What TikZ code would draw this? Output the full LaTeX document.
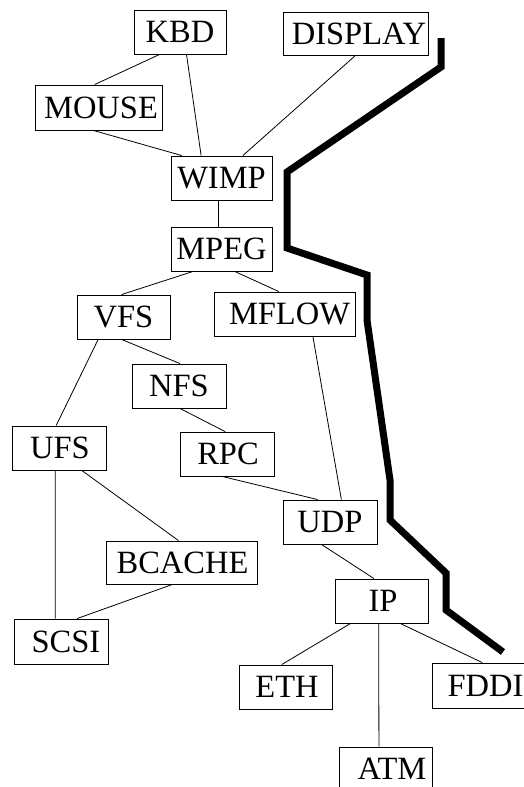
\documentclass[tikz,border=0pt]{standalone}
\usepackage{fontspec}
\setmainfont{Liberation Serif}
\usetikzlibrary{calc}
\tikzset{
  box/.style={draw, line width=0.9pt, inner sep=0pt, minimum height=44pt,
    text height=21.5pt, text depth=0pt, font=\fontsize{32.5}{37}\selectfont},
  conn/.style={line width=0.8pt},
  wall/.style={line width=7pt, line join=miter, line cap=butt}
}
\newcommand\conn[4]{\draw[conn] ($(#1.south west)!#2!(#1.south east)$) -- ($(#3.north west)!#4!(#3.north east)$);}
\begin{document}
\begin{tikzpicture}[x=1pt,y=-1pt]
\useasboundingbox (0,0) rectangle (523,787);
\fill[white] (0,0) rectangle (523,787);
\node[box, minimum width=92pt] (kbd) at (180,32) {KBD};
\node[box, minimum width=145pt, minimum height=43pt] (display) at (355.5,33.5) {\hspace*{7pt}DISPLAY};
\node[box, minimum width=127pt, minimum height=45pt] (mouse) at (98.5,107.5) {\hspace*{5pt}MOUSE};
\node[box, minimum width=101pt] (wimp) at (221.5,178) {WIMP};
\node[box, minimum width=101pt] (mpeg) at (221.5,249) {MPEG};
\node[box, minimum width=93pt] (vfs) at (123.5,317) {VFS};
\node[box, minimum width=141pt] (mflow) at (284.5,314) {\hspace*{10pt}MFLOW};
\node[box, minimum width=94pt] (nfs) at (179,386) {NFS};
\node[box, minimum width=94pt] (ufs) at (59,448) {\hspace*{2pt}UFS};
\node[box, minimum width=94pt] (rpc) at (227,454) {\hspace*{2pt}RPC};
\node[box, minimum width=94pt] (udp) at (330,522) {UDP};
\node[box, minimum width=151pt, minimum height=43pt] (bcache) at (181.5,562.5) {\hspace*{2pt}BCACHE};
\node[box, minimum width=94pt, minimum height=45pt] (scsi) at (61,641.5) {\hspace*{10pt}SCSI};
\node[box, minimum width=93pt] (ip) at (381.5,601) {\hspace*{3pt}IP};
\node[box, minimum width=93pt] (eth) at (285.5,687) {\hspace*{3pt}ETH};
\node[box, minimum width=93pt, minimum height=45pt] (fddi) at (478.5,685.5) {\hspace*{14pt}FDDI};
\node[box, minimum width=93pt] (atm) at (385.5,769) {\hspace*{13pt}ATM};
\conn{kbd}{0.28}{mouse}{0.47}
\conn{kbd}{0.57}{wimp}{0.30}
\conn{mouse}{0.46}{wimp}{0.11}
\conn{display}{0.50}{wimp}{0.71}
\conn{wimp}{0.47}{mpeg}{0.47}
\conn{mpeg}{0.22}{vfs}{0.48}
\conn{mpeg}{0.63}{mflow}{0.46}
\conn{vfs}{0.23}{ufs}{0.47}
\conn{vfs}{0.48}{nfs}{0.51}
\conn{nfs}{0.51}{rpc}{0.48}
\conn{mflow}{0.70}{udp}{0.62}
\conn{rpc}{0.45}{udp}{0.37}
\conn{ufs}{0.46}{scsi}{0.44}
\conn{ufs}{0.74}{bcache}{0.48}
\conn{bcache}{0.44}{scsi}{0.67}
\conn{udp}{0.41}{ip}{0.42}
\conn{ip}{0.17}{eth}{0.46}
\conn{ip}{0.47}{atm}{0.43}
\conn{ip}{0.70}{fddi}{0.54}
\draw[wall] (441,38) -- (441,67) -- (287,172) -- (287,248) -- (367,275) -- (367,320)
  -- (390,480) -- (390,520) -- (446,573) -- (446,610) -- (503,652);
\end{tikzpicture}
\end{document}
